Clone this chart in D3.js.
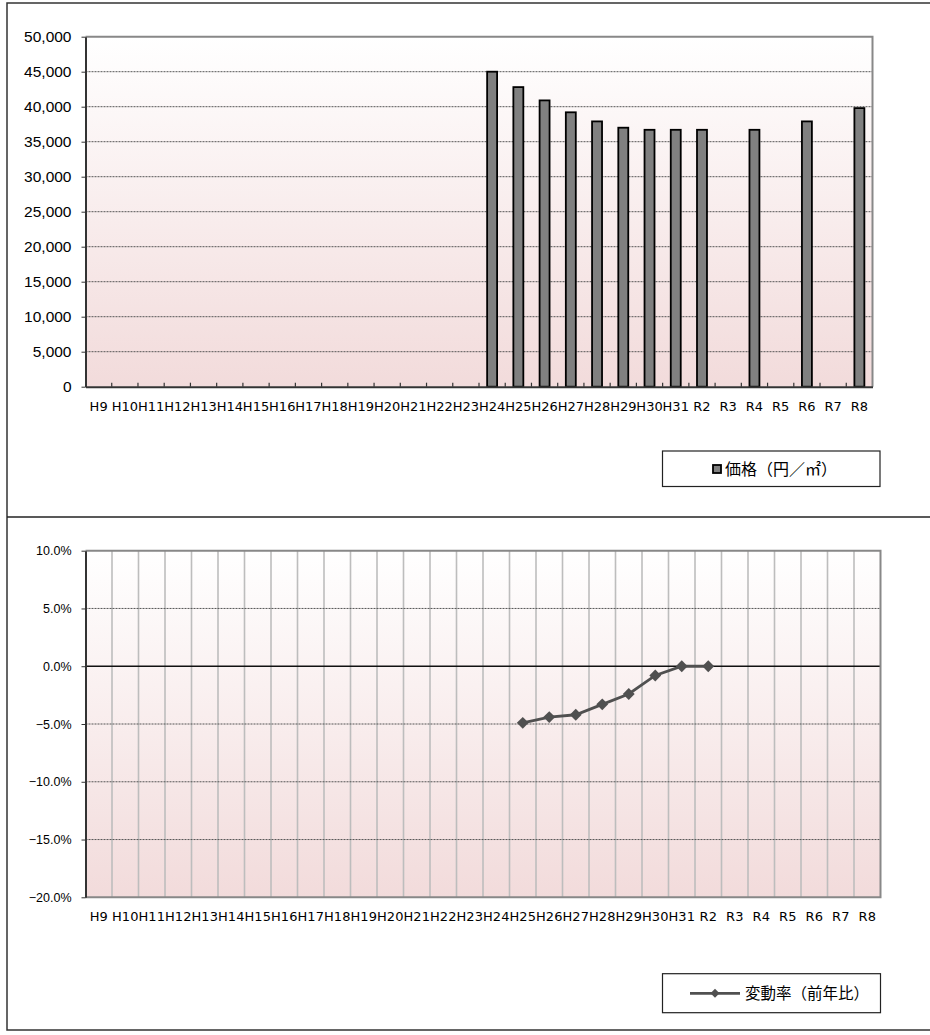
<!DOCTYPE html>
<html><head><meta charset="utf-8">
<script src="https://cdn.jsdelivr.net/npm/d3@7"></script>
<style>
html,body{margin:0;padding:0;background:#fff;}
svg{display:block;}
</style></head>
<body>
<svg id="c" width="930" height="1035"></svg>
<script>
const categories = ['H9','H10','H11','H12','H13','H14','H15','H16','H17','H18','H19','H20','H21','H22','H23','H24','H25','H26','H27','H28','H29','H30','H31','R2','R3','R4','R5','R6','R7','R8'];
const prices = [null,null,null,null,null,null,null,null,null,null,null,null,null,null,null,45000,42800,40900,39200,37900,37000,36700,36700,36700,null,36700,null,37900,null,39800];
const changes = [null,null,null,null,null,null,null,null,null,null,null,null,null,null,null,null,-4.9,-4.4,-4.2,-3.3,-2.4,-0.8,0,0,null,null,null,null,null,null];
const priceTicks = [0,5000,10000,15000,20000,25000,30000,35000,40000,45000,50000];
const changeTicks = [-20,-15,-10,-5,0,5,10];
const legend1 = '価格（円／㎡）';
const legend2 = '変動率（前年比）';

const svg = d3.select('#c');
const defs = svg.append('defs');
const grad = defs.append('linearGradient').attr('id','bg').attr('x1',0).attr('y1',0).attr('x2',0).attr('y2',1);
grad.append('stop').attr('offset','0%').attr('stop-color','#ffffff');
grad.append('stop').attr('offset','100%').attr('stop-color','#f2dbdb');

// outer frame
svg.append('rect').attr('x',7).attr('y',3).attr('width',940).attr('height',1027)
  .attr('fill','none').attr('stroke','#333').attr('stroke-width',1.5);
svg.append('line').attr('x1',7).attr('x2',930).attr('y1',517).attr('y2',517)
  .attr('stroke','#222').attr('stroke-width',1.5);

const catFont = '"DejaVu Sans", sans-serif';
const jpFont = '"Noto Sans CJK JP", sans-serif';
const numFont = '"Liberation Sans", Arial, sans-serif';

// ---------- Top chart ----------
{
  const L=85.5, R=872.5, T=36.7, B=386.7;
  const x = d3.scaleBand().domain(categories).range([L,R]).padding(0);
  const y = d3.scaleLinear().domain([0,50000]).range([B,T]);
  const g = svg.append('g');
  g.append('rect').attr('x',L).attr('y',T).attr('width',R-L).attr('height',B-T).attr('fill','url(#bg)');
  g.selectAll('.grid').data(priceTicks.filter(v=>v>0&&v<50000)).join('line')
    .attr('x1',L).attr('x2',R).attr('y1',d=>y(d)).attr('y2',d=>y(d))
    .attr('stroke','#555').attr('stroke-width',1).attr('stroke-dasharray','2,1');
  g.append('path').attr('d',`M${L},${T}H${R}V${B}`).attr('fill','none').attr('stroke','#888').attr('stroke-width',2);
  const bw = x.bandwidth()*0.38;
  g.selectAll('.bar').data(categories.map((c,i)=>({c,v:prices[i]})).filter(d=>d.v!=null)).join('rect')
    .attr('x',d=>x(d.c)+x.bandwidth()/2-bw/2).attr('y',d=>y(d.v))
    .attr('width',bw).attr('height',d=>B-y(d.v))
    .attr('fill','#808080').attr('stroke','#000').attr('stroke-width',1.8);
  g.selectAll('.tk').data(categories.slice(1)).join('line')
    .attr('x1',d=>x(d)).attr('x2',d=>x(d)).attr('y1',B).attr('y2',B-4)
    .attr('stroke','#333').attr('stroke-width',1.2);
  const ya = g.append('g').attr('transform',`translate(${L},0)`)
    .call(d3.axisLeft(y).tickValues(priceTicks).tickFormat(d3.format(',')).tickSizeInner(4).tickSizeOuter(0).tickPadding(10));
  ya.select('.domain').attr('stroke','#333').attr('stroke-width',2);
  ya.selectAll('.tick line').attr('stroke','#333');
  ya.selectAll('text').attr('font-family',numFont).attr('font-size','15.5px').attr('fill','#000');
  const xa = g.append('g').attr('transform',`translate(0,${B})`)
    .call(d3.axisBottom(x).tickSize(0).tickPadding(15));
  xa.select('.domain').attr('stroke','#333').attr('stroke-width',2);
  xa.selectAll('text').attr('font-family',catFont).attr('font-size','13px').attr('fill','#000');
  const lg = g.append('g');
  lg.append('rect').attr('x',662.5).attr('y',451).attr('width',217.5).attr('height',35.5)
    .attr('fill','#fff').attr('stroke','#222').attr('stroke-width',1.2);
  lg.append('rect').attr('x',713).attr('y',465).attr('width',8).attr('height',8)
    .attr('fill','#808080').attr('stroke','#000').attr('stroke-width',1.8);
  lg.append('text').attr('x',725).attr('y',469).attr('dy','0.35em')
    .attr('font-family',jpFont).attr('font-size','16px').attr('fill','#000').text(legend1);
}

// ---------- Bottom chart ----------
{
  const L=85.5, R=880.5, T=550.7, B=897.3;
  const x = d3.scaleBand().domain(categories).range([L,R]).padding(0);
  const y = d3.scaleLinear().domain([-20,10]).range([B,T]);
  const g = svg.append('g');
  g.append('rect').attr('x',L).attr('y',T).attr('width',R-L).attr('height',B-T).attr('fill','url(#bg)');
  g.selectAll('.vg').data(categories.slice(1)).join('line')
    .attr('x1',d=>x(d)).attr('x2',d=>x(d)).attr('y1',T).attr('y2',B)
    .attr('stroke','#bdbdbd').attr('stroke-width',1.6);
  g.selectAll('.grid').data(changeTicks.filter(v=>v!==0&&v>-20&&v<10)).join('line')
    .attr('x1',L).attr('x2',R).attr('y1',d=>y(d)).attr('y2',d=>y(d))
    .attr('stroke','#555').attr('stroke-width',1).attr('stroke-dasharray','2,1');
  g.append('line').attr('x1',L).attr('x2',R).attr('y1',y(0)).attr('y2',y(0))
    .attr('stroke','#111').attr('stroke-width',1.5);
  g.append('path').attr('d',`M${L},${T}H${R}V${B}H${L}`).attr('fill','none').attr('stroke','#888').attr('stroke-width',2);
  const pts = categories.map((c,i)=>({c,v:changes[i]})).filter(d=>d.v!=null);
  const line = d3.line().x(d=>x(d.c)+x.bandwidth()/2).y(d=>y(d.v));
  g.append('path').datum(pts).attr('d',line).attr('fill','none').attr('stroke','#505050').attr('stroke-width',2.8);
  const sym = d3.symbol(d3.symbolSquare, 70);
  g.selectAll('.pt').data(pts).join('path')
    .attr('d',sym)
    .attr('transform',d=>`translate(${x(d.c)+x.bandwidth()/2},${y(d.v)}) rotate(45)`)
    .attr('fill','#505050');
  const ya = g.append('g').attr('transform',`translate(${L},0)`)
    .call(d3.axisLeft(y).tickValues(changeTicks).tickFormat(d=>(d<0?'−':'')+Math.abs(d).toFixed(1)+'%').tickSizeInner(4).tickSizeOuter(0).tickPadding(10));
  ya.select('.domain').attr('stroke','#333').attr('stroke-width',2);
  ya.selectAll('.tick line').attr('stroke','#333');
  ya.selectAll('text').attr('font-family',numFont).attr('font-size','12.5px').attr('fill','#000');
  const xa = g.append('g').attr('transform',`translate(0,${B})`)
    .call(d3.axisBottom(x).tickSize(0).tickPadding(14));
  xa.select('.domain').remove();
  xa.selectAll('text').attr('font-family',catFont).attr('font-size','13px').attr('fill','#000');
  const lg = g.append('g');
  lg.append('rect').attr('x',662.5).attr('y',973.7).attr('width',218).attr('height',39)
    .attr('fill','#fff').attr('stroke','#222').attr('stroke-width',1.2);
  lg.append('line').attr('x1',690).attr('x2',740).attr('y1',993.3).attr('y2',993.3)
    .attr('stroke','#505050').attr('stroke-width',2.8);
  lg.append('path').attr('d',d3.symbol(d3.symbolSquare,40)).attr('transform','translate(715,993.3) rotate(45)').attr('fill','#505050');
  lg.append('text').attr('x',745).attr('y',993.3).attr('dy','0.35em')
    .attr('font-family',jpFont).attr('font-size','15.5px').attr('fill','#000').text(legend2);
}
</script>
</body></html>
